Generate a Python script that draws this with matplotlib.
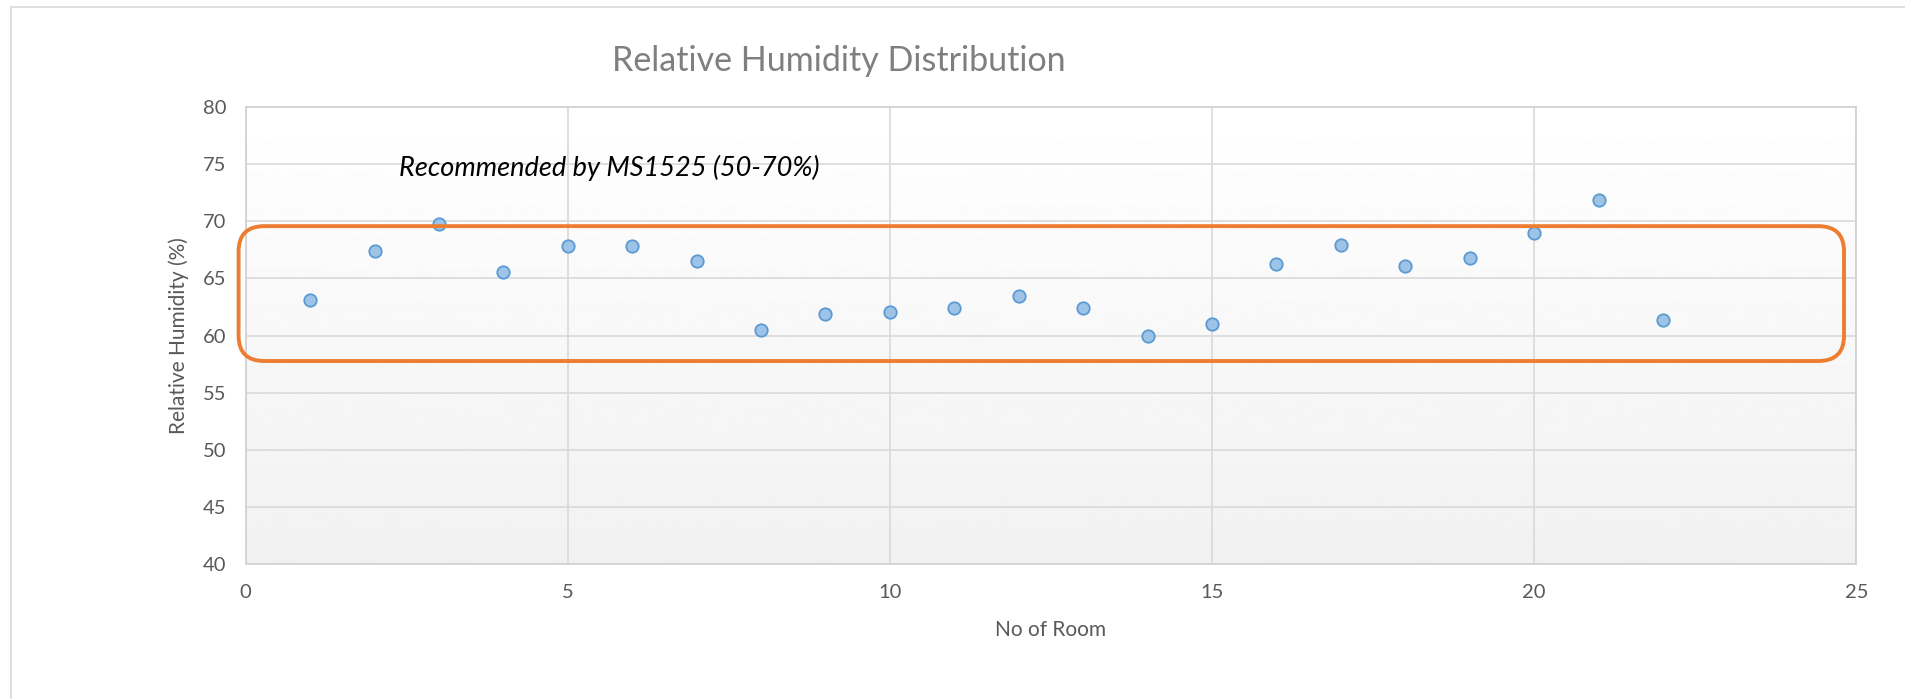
import numpy as np
import matplotlib.pyplot as plt
from matplotlib.patches import FancyBboxPatch, Rectangle

plt.rcParams['font.family'] = ['Lato', 'DejaVu Sans']

rooms = list(range(1, 23))
humidity = [63.1, 67.4, 69.8, 65.6, 67.8, 67.8, 66.5, 60.5, 61.9, 62.1, 62.4,
            63.5, 62.4, 60.0, 61.0, 66.3, 67.9, 66.1, 66.8, 69.0, 71.9, 61.4]

x_ticks = [0, 5, 10, 15, 20, 25]
y_ticks = [40, 45, 50, 55, 60, 65, 70, 75, 80]

fig = plt.figure(figsize=(19.06, 6.99), dpi=100)
ax = fig.add_axes([0.1289, 0.193, 0.845, 0.654])

# outer chart border
fig.patches.append(Rectangle((0.006, -0.01), 1.0, 1.0, transform=fig.transFigure,
                             fill=False, edgecolor='#d9d9d9', linewidth=1.2))

# plot area gradient white -> light grey
grad = np.linspace(1.0, 0.945, 256).reshape(-1, 1)
ax.imshow(grad, cmap='gray', vmin=0, vmax=1, aspect='auto',
          extent=[0, 1, 0, 1], transform=ax.transAxes, zorder=0)

ax.set_xlim(0, 25)
ax.set_ylim(40, 80)
ax.set_xticks(x_ticks)
ax.set_yticks(y_ticks)
ax.grid(True, color='#d9d9d9', linewidth=1.2, zorder=1)
ax.set_axisbelow(True)
for s in ax.spines.values():
    s.set_color('#d0d0d0')
    s.set_linewidth(1.2)
ax.tick_params(length=0, labelsize=14.5, labelcolor='#595959', pad=14)

ax.scatter(rooms, humidity, s=80, facecolor='#9dc3e6', edgecolor='#5b9bd5',
           linewidth=1.3, zorder=3)

# recommended band box (rounded)
box = FancyBboxPatch((-0.11, 57.77), 24.92, 11.8,
                     boxstyle='round,pad=0,rounding_size=0.4',
                     mutation_aspect=5.5, fill=False,
                     edgecolor='#ed7d31', linewidth=2.8, zorder=4,
                     clip_on=False)
ax.add_patch(box)

ax.text(2.38, 74.7, 'Recommended by MS1525 (50-70%)', fontsize=19.5,
        style='italic', color='black', va='center', zorder=5)

ax.set_xlabel('No of Room', fontsize=15, color='#595959', labelpad=14)
ax.set_ylabel('Relative Humidity (%)', fontsize=15, color='#595959', labelpad=10)
fig.text(0.44, 0.913, 'Relative Humidity Distribution', fontsize=24.5,
         color='#7f7f7f', ha='center', va='center')

fig.savefig('out.png', dpi=100)
